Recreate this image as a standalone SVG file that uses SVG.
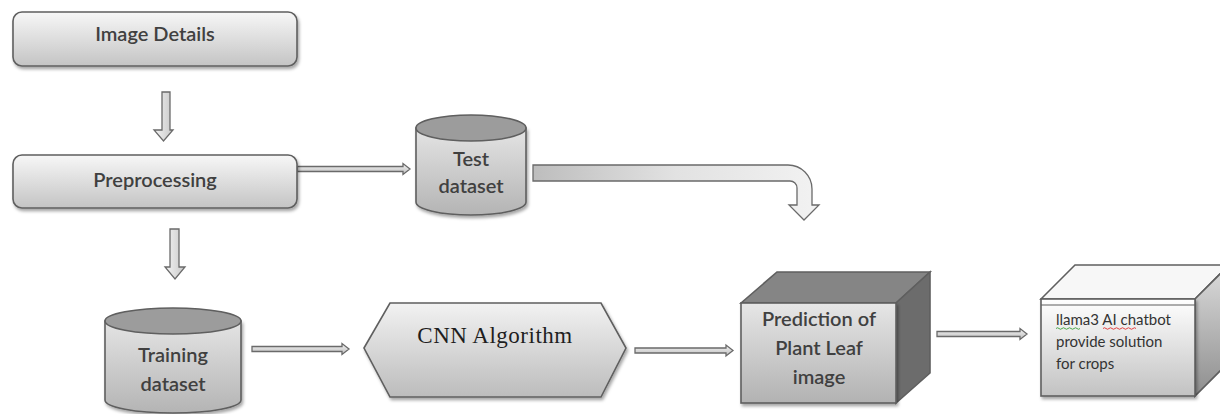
<svg xmlns="http://www.w3.org/2000/svg" width="1220" height="414" viewBox="0 0 1220 414">
<defs>
<linearGradient id="gBox" x1="0" y1="0" x2="0" y2="1"><stop offset="0" stop-color="#f7f7f7"/><stop offset="1" stop-color="#c4c4c4"/></linearGradient>
<linearGradient id="gCyl" x1="0" y1="0" x2="0" y2="1"><stop offset="0" stop-color="#e4e4e4"/><stop offset="1" stop-color="#b4b4b4"/></linearGradient>
<linearGradient id="gHex" x1="0" y1="0" x2="0" y2="1"><stop offset="0" stop-color="#f2f2f2"/><stop offset="1" stop-color="#bcbcbc"/></linearGradient>
<linearGradient id="gFront" x1="0" y1="0" x2="0" y2="1"><stop offset="0" stop-color="#e6e6e6"/><stop offset="1" stop-color="#b2b2b2"/></linearGradient>
<linearGradient id="gFront2" x1="0" y1="0" x2="0" y2="1"><stop offset="0" stop-color="#ffffff"/><stop offset="1" stop-color="#c2c2c2"/></linearGradient>
<linearGradient id="gSide2" x1="0" y1="0" x2="0" y2="1"><stop offset="0" stop-color="#dcdcdc"/><stop offset="1" stop-color="#8e8e8e"/></linearGradient>
<linearGradient id="gBent" x1="0" y1="0" x2="1" y2="0"><stop offset="0" stop-color="#bdbdbd"/><stop offset="0.5" stop-color="#e2e2e2"/><stop offset="1" stop-color="#f2f2f2"/></linearGradient>
<linearGradient id="gArr" x1="0" y1="0" x2="1" y2="0"><stop offset="0" stop-color="#f4f4f4"/><stop offset="1" stop-color="#c8c8c8"/></linearGradient>
<linearGradient id="gArrH" x1="0" y1="0" x2="0" y2="1"><stop offset="0" stop-color="#f4f4f4"/><stop offset="1" stop-color="#bdbdbd"/></linearGradient>
<filter id="sh" x="-10%" y="-10%" width="125%" height="135%"><feDropShadow dx="1.5" dy="2.5" stdDeviation="1.8" flood-color="#000" flood-opacity="0.35"/></filter>
</defs>
<style>
.shape{stroke:#5f5f5f;stroke-width:1.6}
.arr{stroke:#6a6a6a;stroke-width:1.3;stroke-linejoin:miter}
.lbl{font-family:Lato,"Liberation Sans",sans-serif;font-weight:600;font-size:20px;fill:#404040;text-anchor:middle}
.serif{font-family:"Liberation Serif","DejaVu Serif",serif;font-size:23px;fill:#1e1e1e;text-anchor:middle}
.small{font-family:Lato,"Liberation Sans",sans-serif;font-size:15px;fill:#333}
</style>

<g id="connectors">
  <path class="arr" fill="url(#gArr)" d="M162,92 H170 V130 H173 L163.5,141 L154,130 H162 Z"/>
  <path class="arr" fill="url(#gArr)" d="M170,229 H179 V267 H185 L175,279 L165,267 H170 Z"/>
  <path class="arr" fill="url(#gArrH)" d="M297,166.5 H403 V163.5 L410,169 L403,174.5 V171.5 H297 Z"/>
  <path class="arr" fill="url(#gBent)" stroke-width="1.6" d="M533,165 H788 A24,24 0 0 1 812,189 V205 H819 L804,220 L789,205 H797 V188 A7,7 0 0 0 790,181 H533 Z"/>
  <path class="arr" fill="url(#gArrH)" d="M252,346.5 H342 V343.5 L349,349 L342,354.5 V351.5 H252 Z"/>
  <path class="arr" fill="url(#gArrH)" d="M635,348 H726 V345 L733,350.5 L726,356 V353 H635 Z"/>
  <path class="arr" fill="url(#gArrH)" d="M937,331.5 H1020 V328.5 L1027,334 L1020,339.5 V336.5 H937 Z"/>
</g>

<g id="image-details">
  <rect class="shape" x="13" y="12" width="284" height="54" rx="9" fill="url(#gBox)" filter="url(#sh)"/>
  <text class="lbl" x="155" y="41">Image Details</text>
</g>

<g id="preprocessing">
  <rect class="shape" x="13" y="155" width="284" height="53" rx="9" fill="url(#gBox)" filter="url(#sh)"/>
  <text class="lbl" x="155" y="187">Preprocessing</text>
</g>

<g id="test-dataset">
  <path class="shape" fill="url(#gCyl)" d="M416,128 V202 A55,13 0 0 0 526,202 V128 Z" filter="url(#sh)"/>
  <ellipse class="shape" cx="471" cy="128" rx="55" ry="13" fill="#9c9c9c"/>
  <text class="lbl" x="471" y="166">Test</text>
  <text class="lbl" x="471" y="193">dataset</text>
</g>

<g id="training-dataset">
  <path class="shape" fill="url(#gCyl)" d="M105,321 V400 A68,13 0 0 0 241,400 V321 Z" filter="url(#sh)"/>
  <ellipse class="shape" cx="173" cy="321" rx="68" ry="13" fill="#9c9c9c"/>
  <text class="lbl" x="173" y="362">Training</text>
  <text class="lbl" x="173" y="391">dataset</text>
</g>

<g id="cnn-algorithm">
  <polygon class="shape" points="364,348 390,303 601,303 626,348 601,397 390,397" fill="url(#gHex)" filter="url(#sh)"/>
  <text class="serif" x="495" y="343" letter-spacing="0.5">CNN Algorithm</text>
</g>

<g id="prediction">
  <polygon class="shape" points="741,303 777,272 930,272 896,303" fill="#858585"/>
  <polygon class="shape" points="896,303 930,272 930,373 896,403" fill="#6c6c6c"/>
  <rect class="shape" x="741" y="303" width="155" height="100" fill="url(#gFront)" filter="url(#sh)"/>
  <text class="lbl" x="819" y="326">Prediction of</text>
  <text class="lbl" x="819" y="355">Plant Leaf</text>
  <text class="lbl" x="819" y="384">image</text>
</g>

<g id="chatbot">
  <polygon class="shape" points="1041,299 1075,265 1229,265 1195,299" fill="#f7f7f7"/>
  <polygon class="shape" points="1195,299 1229,265 1229,362 1195,396" fill="url(#gSide2)"/>
  <rect class="shape" x="1041" y="299" width="154" height="97" fill="url(#gFront2)" filter="url(#sh)"/>
  <line x1="1041" y1="305" x2="1195" y2="305" stroke="#5f5f5f" stroke-width="1.2"/>
  <text class="small" x="1056" y="325">llama3 AI chatbot</text>
  <text class="small" x="1056" y="347">provide solution</text>
  <text class="small" x="1056" y="369">for crops</text>
  <path d="M1056,328.5 q1.5,-1.5 3,0 t3,0 t3,0 t3,0 t3,0 t3,0 t3,0 t3,0" fill="none" stroke="#3aa03a" stroke-width="0.9"/>
  <path d="M1103,328.5 q1.5,-1.5 3,0 t3,0 t3,0 t3,0 t3,0 t3,0 t3,0 t3,0 t3,0 t3,0 t3,0" fill="none" stroke="#e03030" stroke-width="0.9"/>
</g>
</svg>
